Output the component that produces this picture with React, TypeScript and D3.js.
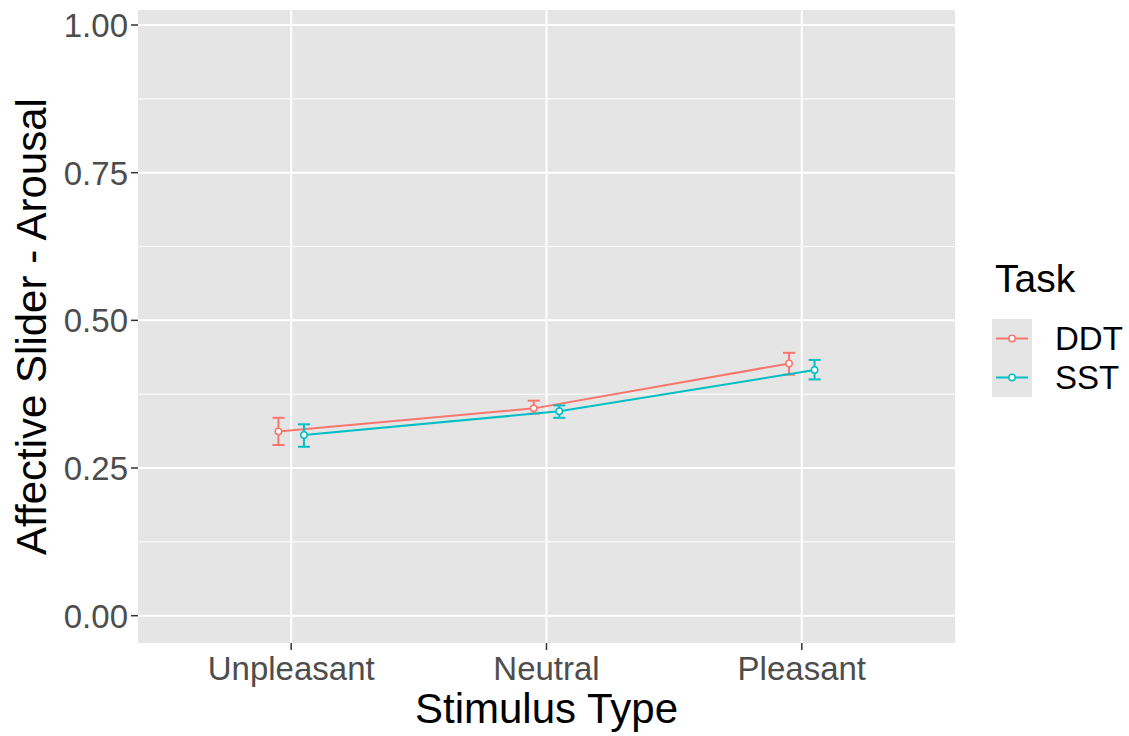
import React from 'react';
import * as d3 from 'd3';

// Data
const categories = ['Unpleasant', 'Neutral', 'Pleasant'];
const tasks = ['DDT', 'SST'];
const ddtMean = [0.312, 0.351, 0.427];
const ddtLow = [0.289, 0.342, 0.408];
const ddtHigh = [0.335, 0.364, 0.445];
const sstMean = [0.306, 0.346, 0.416];
const sstLow = [0.286, 0.335, 0.4];
const sstHigh = [0.324, 0.356, 0.433];
const yTicks = [0, 0.25, 0.5, 0.75, 1];
const yMinor = [0.125, 0.375, 0.625, 0.875];

const colors = ['#F8766D', '#00BFC4'];
const series = [
  { name: tasks[0], mean: ddtMean, low: ddtLow, high: ddtHigh },
  { name: tasks[1], mean: sstMean, low: sstLow, high: sstHigh },
];

const App = () => {
  const width = 1129;
  const height = 736;
  const panel = { left: 138, right: 955, top: 10, bottom: 643 };
  const font = 'Liberation Sans, Arial, Helvetica, sans-serif';

  // Scales
  const x = d3
    .scalePoint<string>()
    .domain(categories)
    .range([panel.left, panel.right])
    .padding(0.6);
  const dodge = x.step() * 0.05;

  const y = d3.scaleLinear().domain([0, 1]).range([615.7, 25]);

  const line = d3
    .line<[number, number]>()
    .x(d => d[0])
    .y(d => d[1]);

  return (
    <svg
      width={width}
      height={height}
      style={{ position: 'absolute', left: 0, top: 0, background: '#fff' }}
      fontFamily={font}
    >
      {/* panel */}
      <rect
        x={panel.left}
        y={panel.top}
        width={panel.right - panel.left}
        height={panel.bottom - panel.top}
        fill="#E5E5E5"
      />
      {/* minor grid */}
      {yMinor.map(t => (
        <line key={'m' + t} x1={panel.left} x2={panel.right} y1={y(t)} y2={y(t)} stroke="#fff" strokeWidth={1} />
      ))}
      {/* major grid */}
      {yTicks.map(t => (
        <line key={'g' + t} x1={panel.left} x2={panel.right} y1={y(t)} y2={y(t)} stroke="#fff" strokeWidth={2} />
      ))}
      {categories.map(c => (
        <line key={'gx' + c} x1={x(c)} x2={x(c)} y1={panel.top} y2={panel.bottom} stroke="#fff" strokeWidth={2} />
      ))}

      {/* series */}
      {series.map((s, si) => {
        const off = si === 0 ? -dodge : dodge;
        const pts: [number, number][] = categories.map((c, i) => [(x(c) as number) + off, y(s.mean[i])]);
        const capW = 6;
        return (
          <g key={s.name} stroke={colors[si]} strokeWidth={2} fill="none">
            <path d={line(pts) || ''} />
            {categories.map((c, i) => {
              const cx = (x(c) as number) + off;
              return (
                <g key={c}>
                  <line x1={cx} x2={cx} y1={y(s.low[i])} y2={y(s.high[i])} />
                  <line x1={cx - capW} x2={cx + capW} y1={y(s.low[i])} y2={y(s.low[i])} />
                  <line x1={cx - capW} x2={cx + capW} y1={y(s.high[i])} y2={y(s.high[i])} />
                  <circle cx={cx} cy={y(s.mean[i])} r={3.2} fill="#fff" strokeWidth={1.5} />
                </g>
              );
            })}
          </g>
        );
      })}

      {/* y axis */}
      {yTicks.map(t => (
        <g key={'yt' + t}>
          <line x1={panel.left - 7} x2={panel.left} y1={y(t)} y2={y(t)} stroke="#333" strokeWidth={1.5} />
          <text x={panel.left - 10} y={y(t)} dy="0.36em" textAnchor="end" fontSize={33} fill="#4D4D4D">
            {d3.format('.2f')(t)}
          </text>
        </g>
      ))}
      {/* x axis */}
      {categories.map(c => (
        <g key={'xt' + c}>
          <line x1={x(c)} x2={x(c)} y1={panel.bottom} y2={panel.bottom + 7} stroke="#333" strokeWidth={1.5} />
          <text x={x(c)} y={680} textAnchor="middle" fontSize={33} fill="#4D4D4D">
            {c}
          </text>
        </g>
      ))}

      {/* axis titles */}
      <text x={(panel.left + panel.right) / 2} y={723} textAnchor="middle" fontSize={42} fill="#000">
        Stimulus Type
      </text>
      <text
        transform={`translate(46,${(panel.top + panel.bottom) / 2}) rotate(-90)`}
        textAnchor="middle"
        fontSize={42}
        fill="#000"
      >
        Affective Slider - Arousal
      </text>

      {/* legend */}
      <text x={995} y={292} fontSize={39} fill="#000">
        Task
      </text>
      {series.map((s, si) => {
        const ky = 319 + si * 39;
        return (
          <g key={'lg' + s.name}>
            <rect x={992} y={ky} width={40} height={39} fill="#E5E5E5" />
            <line x1={996} x2={1028} y1={ky + 19.5} y2={ky + 19.5} stroke={colors[si]} strokeWidth={2} />
            <circle cx={1012} cy={ky + 19.5} r={3.2} fill="#fff" stroke={colors[si]} strokeWidth={1.5} />
            <text x={1055} y={ky + 19.5} dy="0.36em" fontSize={33} fill="#000">
              {s.name}
            </text>
          </g>
        );
      })}
    </svg>
  );
};

export default App;
